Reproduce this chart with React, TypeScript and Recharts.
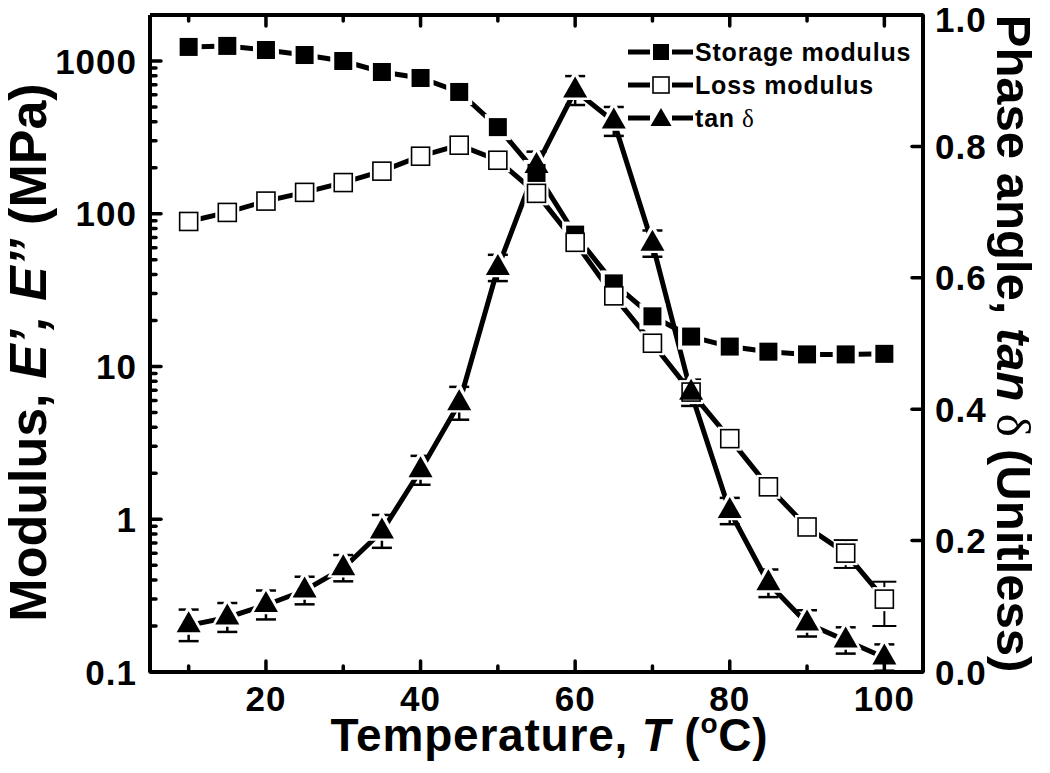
import React from 'react'
import { ComposedChart, Line, XAxis, YAxis, ErrorBar, Legend, Label } from 'recharts'

const temperature = [10, 15, 20, 25, 30, 35, 40, 45, 50, 55, 60, 65, 70, 75, 80, 85, 90, 95, 100]
const storageModulus = [1236, 1255, 1180, 1094, 1000, 847, 774, 627, 369, 185, 73, 35, 21.3, 15.7, 13.5, 12.5, 12, 12, 12.1]
const lossModulus = [89, 102, 121, 138, 160, 190, 238, 281, 224, 136, 65, 29, 14.2, 6.8, 3.37, 1.63, 0.89, 0.6, 0.3]
const lossError = [null, null, null, null, null, null, null, null, null, null, null, null, null, null, null, null, null, [0.12, 0.13], [0.1, 0.09]]
const tanDelta = [0.071, 0.083, 0.102, 0.124, 0.158, 0.214, 0.307, 0.409, 0.615, 0.77, 0.885, 0.838, 0.652, 0.425, 0.245, 0.135, 0.074, 0.048, 0.022]
const tanDeltaError = [0.024, 0.022, 0.022, 0.021, 0.02, 0.025, 0.022, 0.025, 0.02, 0.022, 0.022, 0.022, 0.02, 0.02, 0.02, 0.021, 0.02, 0.02, 0.02]

const xTicks = [10, 20, 30, 40, 50, 60, 70, 80, 90, 100]
const modulusDecades = [0.1, 1, 10, 100, 1000]
const phaseTicks = [0, 0.2, 0.4, 0.6, 0.8, 1.0]

const modulusTicks = modulusDecades.flatMap((d) =>
  d === 1000 ? [d] : [1, 2, 3, 4, 5, 6, 7, 8, 9].map((m) => +(d * m).toPrecision(3))
)

const rows = temperature.map((t, i) => ({
  t,
  storage: storageModulus[i],
  loss: lossModulus[i],
  lossErr: lossError[i],
  tan: tanDelta[i],
  tanErr: tanDeltaError[i],
}))

const FONT = "'Liberation Sans', Arial, sans-serif"
const SERIF = "'Liberation Serif', 'Times New Roman', serif"
const axisLine = { stroke: '#000', strokeWidth: 4 }

const isDecade = (v: number) => Math.abs(Math.log10(v) - Math.round(Math.log10(v))) < 1e-9

function BottomTick({ x, y, payload }: any) {
  const major = payload.value % 20 === 0
  return (
    <g>
      <line x1={x} x2={x} y1={y} y2={y - (major ? 11 : 6)} stroke="#000" strokeWidth={3.5} strokeLinecap="round" />
      {major && (
        <text x={x} y={y + 39} textAnchor="middle" fontFamily={FONT} fontWeight="bold" fontSize={35} letterSpacing={1}>
          {payload.value}
        </text>
      )}
    </g>
  )
}

function TopTick({ x, y, payload }: any) {
  const major = payload.value % 20 === 0
  return <line x1={x} x2={x} y1={y} y2={y + (major ? 11 : 6)} stroke="#000" strokeWidth={3.5} strokeLinecap="round" />
}

function LeftTick({ x, y, payload }: any) {
  const major = isDecade(payload.value)
  return (
    <g>
      <line x1={x} x2={x + (major ? 11 : 6)} y1={y} y2={y} stroke="#000" strokeWidth={3.5} strokeLinecap="round" />
      {major && (
        <text x={x - 13} y={y} dy="0.36em" textAnchor="end" fontFamily={FONT} fontWeight="bold" fontSize={35} letterSpacing={1}>
          {payload.value}
        </text>
      )}
    </g>
  )
}

function RightTick({ x, y, payload }: any) {
  return (
    <g>
      <line x1={x} x2={x - 11} y1={y} y2={y} stroke="#000" strokeWidth={3.5} strokeLinecap="round" />
      <text x={x + 12} y={Math.max(y, 19)} dy="0.36em" textAnchor="start" fontFamily={FONT} fontWeight="bold" fontSize={35} letterSpacing={1}>
        {payload.value.toFixed(1)}
      </text>
    </g>
  )
}

// triangle drawn with its centroid on the data point
const triPath = (cx: number, cy: number, w: number, h: number) =>
  `M${cx},${cy - (2 * h) / 3}L${cx + w / 2},${cy + h / 3}L${cx - w / 2},${cy + h / 3}Z`

// white halo that opens the line around each marker
const halo = (size: number, shape: string) => (props: any) => {
  const { cx, cy, index } = props
  if (shape === 'tri') return <path key={index} d={triPath(cx, cy - 1, size + 8, size + 7)} fill="#fff" />
  return <rect key={index} x={cx - size / 2} y={cy - size / 2} width={size} height={size} fill="#fff" />
}

const Square = ({ cx, cy, filled, s = 18 }: any) => (
  <rect
    x={cx - s / 2}
    y={cy - s / 2}
    width={s}
    height={s}
    fill={filled ? '#000' : '#fff'}
    stroke="#000"
    strokeWidth={filled ? 0 : 1.6}
  />
)

const Triangle = ({ cx, cy, w = 24, h = 21 }: any) => <path d={triPath(cx, cy, w, h)} fill="#000" />

const filledDot = (p: any) => <Square key={p.index} cx={p.cx} cy={p.cy} filled />
const openDot = (p: any) => <Square key={p.index} cx={p.cx} cy={p.cy} />
const triDot = (p: any) => <Triangle key={p.index} cx={p.cx} cy={p.cy} />

const legendItems = [
  { label: 'Storage modulus', marker: 'filled' },
  { label: 'Loss modulus', marker: 'open' },
  { label: 'tan', marker: 'tri' },
]

function LegendBox() {
  return (
    <svg width={320} height={110}>
      {legendItems.map((it, i) => {
        const y = 22 + i * 33
        return (
          <g key={it.label}>
            <line x1={8} x2={73} y1={y} y2={y} stroke="#000" strokeWidth={5} />
            <rect x={30} y={y - 11} width={22} height={22} fill="#fff" />
            {it.marker === 'filled' && <Square cx={41} cy={y} filled s={16} />}
            {it.marker === 'open' && <Square cx={41} cy={y} s={16} />}
            {it.marker === 'tri' && <Triangle cx={41} cy={y + 2} w={21} h={18} />}
            <text x={75} y={y} dy="0.36em" fontFamily={FONT} fontWeight="bold" fontSize={25} letterSpacing={0.8}>
              {it.label}
              {it.marker === 'tri' && (
                <tspan fontFamily={SERIF} fontWeight="normal">
                  {' δ'}
                </tspan>
              )}
            </text>
          </g>
        )
      })}
    </svg>
  )
}

const BottomTitle = ({ viewBox }: any) => (
  <text
    x={viewBox.x + viewBox.width / 2 + 13}
    y={viewBox.y + 79}
    textAnchor="middle"
    fontFamily={FONT}
    fontWeight="bold"
    fontSize={46}
    letterSpacing={0.8}
  >
    Temperature, <tspan fontStyle="italic">T</tspan> (
    <tspan fontSize={28} dy={-18}>o</tspan>
    <tspan dy={18}>C)</tspan>
  </text>
)

const LeftTitle = ({ viewBox }: any) => {
  const x = viewBox.x + 46
  const y = viewBox.y + viewBox.height / 2 + 9
  return (
    <text x={x} y={y} transform={`rotate(-90, ${x}, ${y})`} textAnchor="middle" fontFamily={FONT} fontWeight="bold" fontSize={52}>
      Modulus, <tspan fontStyle="italic">E’, E’’</tspan> (MPa)
    </text>
  )
}

const RightTitle = ({ viewBox }: any) => {
  const x = viewBox.x + 74
  const y = viewBox.y + viewBox.height / 2
  return (
    <text x={x} y={y} transform={`rotate(90, ${x}, ${y})`} textAnchor="middle" fontFamily={FONT} fontWeight="bold" fontSize={49}>
      Phase angle, <tspan fontStyle="italic">tan</tspan>
      <tspan fontFamily={SERIF} fontWeight="normal"> δ </tspan>
      (Unitless)
    </text>
  )
}

export default function App() {
  return (
    <div style={{ position: 'absolute', left: 0, top: 0, width: 1050, height: 773, background: '#fff' }}>
      <ComposedChart width={1050} height={773} data={rows} margin={{ top: 0, right: 0, bottom: 0, left: 0 }}>
        <XAxis
          xAxisId="b"
          dataKey="t"
          type="number"
          domain={[5, 105]}
          ticks={xTicks}
          interval={0}
          height={101}
          tickSize={0}
          tickMargin={0}
          tickLine={false}
          axisLine={axisLine}
          tick={BottomTick}
        >
          <Label content={BottomTitle} />
        </XAxis>
        <XAxis
          xAxisId="t"
          dataKey="t"
          type="number"
          orientation="top"
          domain={[5, 105]}
          ticks={xTicks}
          interval={0}
          height={15}
          tickSize={0}
          tickMargin={0}
          tickLine={false}
          axisLine={axisLine}
          tick={TopTick}
        />
        <YAxis
          yAxisId="l"
          type="number"
          scale="log"
          domain={[0.1, 2000]}
          allowDataOverflow
          ticks={modulusTicks}
          interval={0}
          width={150}
          tickSize={0}
          tickMargin={0}
          tickLine={false}
          axisLine={axisLine}
          tick={LeftTick}
        >
          <Label content={LeftTitle} />
        </YAxis>
        <YAxis
          yAxisId="r"
          orientation="right"
          type="number"
          domain={[0, 1]}
          ticks={phaseTicks}
          interval={0}
          width={127}
          tickSize={0}
          tickMargin={0}
          tickLine={false}
          axisLine={axisLine}
          tick={RightTick}
        >
          <Label content={RightTitle} />
        </YAxis>

        {/* connecting lines, with white halos around the points */}
        <Line xAxisId="b" yAxisId="l" dataKey="storage" stroke="#000" strokeWidth={5} dot={halo(26, 'sq')} isAnimationActive={false} legendType="none" />
        <Line xAxisId="b" yAxisId="l" dataKey="loss" stroke="#000" strokeWidth={5} dot={halo(24, 'sq')} isAnimationActive={false} legendType="none" />
        <Line xAxisId="b" yAxisId="r" dataKey="tan" stroke="#000" strokeWidth={5} dot={halo(24, 'tri')} isAnimationActive={false} legendType="none" />

        {/* markers and error bars */}
        <Line xAxisId="b" yAxisId="l" dataKey="storage" stroke="none" dot={filledDot} isAnimationActive={false} legendType="none" />
        <Line xAxisId="b" yAxisId="l" dataKey="loss" stroke="none" dot={openDot} isAnimationActive={false} legendType="none">
          <ErrorBar dataKey="lossErr" direction="y" width={12} strokeWidth={2} stroke="#000" />
        </Line>
        <Line xAxisId="b" yAxisId="r" dataKey="tan" stroke="none" dot={triDot} isAnimationActive={false} legendType="none">
          <ErrorBar dataKey="tanErr" direction="y" width={10} strokeWidth={2.5} stroke="#000" />
        </Line>

        <Legend
          layout="vertical"
          align="center"
          verticalAlign="middle"
          content={LegendBox}
          wrapperStyle={{ left: 620, top: 30, width: 320, height: 110 }}
        />
      </ComposedChart>
    </div>
  )
}
